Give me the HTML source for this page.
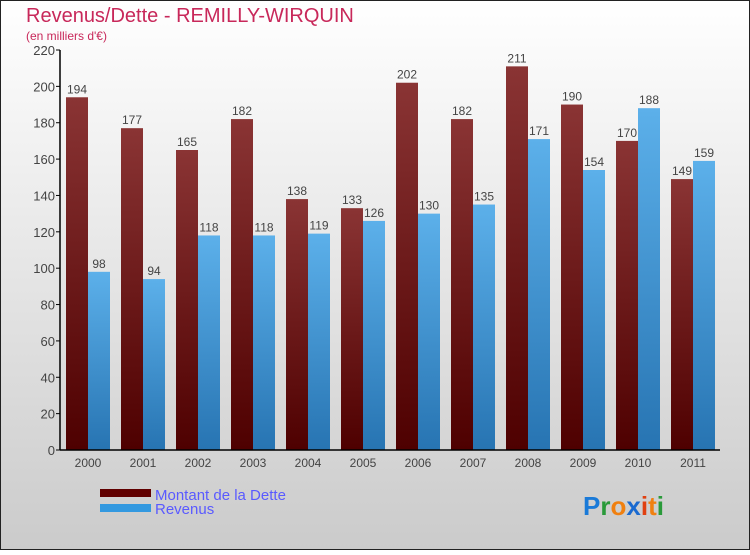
<!DOCTYPE html>
<html><head><meta charset="utf-8"><style>
body{margin:0;}
svg text{font-family:"Liberation Sans",sans-serif;}
</style></head><body>
<svg width="750" height="550" xmlns="http://www.w3.org/2000/svg">
<defs>
<linearGradient id="bg" x1="0" y1="0" x2="0" y2="1"><stop offset="0" stop-color="#ffffff"/><stop offset="1" stop-color="#cbcbcb"/></linearGradient>
<linearGradient id="gd" x1="0" y1="0" x2="0" y2="1"><stop offset="0" stop-color="#8a3434"/><stop offset="1" stop-color="#4e0000"/></linearGradient>
<linearGradient id="gr" x1="0" y1="0" x2="0" y2="1"><stop offset="0" stop-color="#5cb0ea"/><stop offset="1" stop-color="#2774b2"/></linearGradient>
</defs>
<rect x="0.5" y="0.5" width="749" height="549" fill="url(#bg)" stroke="#222"/>
<text x="26" y="22" font-size="20" fill="#c8285a">Revenus/Dette - REMILLY-WIRQUIN</text>
<text x="26" y="40" font-size="12" fill="#c8285a">(en milliers d'€)</text>
<g id="plot"></g>
<g>
<rect x="100" y="489" width="51" height="8" fill="#600000"/>
<text x="155" y="500" font-size="15" fill="#5a5aff">Montant de la Dette</text>
<rect x="100" y="504" width="51" height="8" fill="#3399e0"/>
<text x="155" y="514" font-size="15" fill="#5a5aff">Revenus</text>
</g>
<g font-size="26" font-weight="bold">
<text x="583" y="515"><tspan fill="#1a7ad8">P</tspan><tspan fill="#2a9a3a">r</tspan><tspan fill="#f08010">o</tspan><tspan fill="#1a6ad0">x</tspan><tspan fill="#e04010">i</tspan><tspan fill="#f08010">t</tspan><tspan fill="#2a9a3a">i</tspan></text>
</g>
</svg>
<script>
const years=["2000","2001","2002","2003","2004","2005","2006","2007","2008","2009","2010","2011"];
const dette=[194,177,165,182,138,133,202,182,211,190,170,149];
const revenus=[98,94,118,118,119,126,130,135,171,154,188,159];
const yTicks=[0,20,40,60,80,100,120,140,160,180,200,220];
const NS="http://www.w3.org/2000/svg";
const g=document.getElementById('plot');
const x0=60,band=55,yBase=450,yTop=50,yMax=220;
const y=v=>yBase-v/yMax*(yBase-yTop);
const bx=i=>x0+i*band;
function el(t,a,txt){const e=document.createElementNS(NS,t);for(const k in a)e.setAttribute(k,a[k]);if(txt!==undefined)e.textContent=txt;g.appendChild(e);return e;}
years.forEach((yr,i)=>{
  const b1=el('rect',{x:bx(i)+6,y:y(dette[i]),width:22,height:yBase-y(dette[i]),fill:'url(#gd)'});
  
  
  const b2=el('rect',{x:bx(i)+28,y:y(revenus[i]),width:22,height:yBase-y(revenus[i]),fill:'url(#gr)'});
  
  
  const l1=el('text',{x:bx(i)+17,y:y(dette[i])-4,'font-size':12,fill:'#444','text-anchor':'middle'},dette[i]);
  
  
  const l2=el('text',{x:bx(i)+39,y:y(revenus[i])-4,'font-size':12,fill:'#444','text-anchor':'middle'},revenus[i]);
  
  
  const xt=el('text',{x:bx(i)+28,y:467,'font-size':12,fill:'#444','text-anchor':'middle'},yr);
  
  
});
yTicks.forEach(t=>{
  const tk=el('line',{x1:x0-4,x2:x0,y1:y(t),y2:y(t),stroke:'#000'});
  
  
  const tl=el('text',{x:x0-5,y:y(t)+5,'font-size':13,fill:'#444','text-anchor':'end'},t);
  
  
});
const ya=el('line',{x1:x0,x2:x0,y1:yTop,y2:yBase,stroke:'#000','stroke-width':1.5});


const xa=el('line',{x1:x0,x2:x0+12*band,y1:yBase,y2:yBase,stroke:'#000','stroke-width':1.5});


</script>
</body></html>
